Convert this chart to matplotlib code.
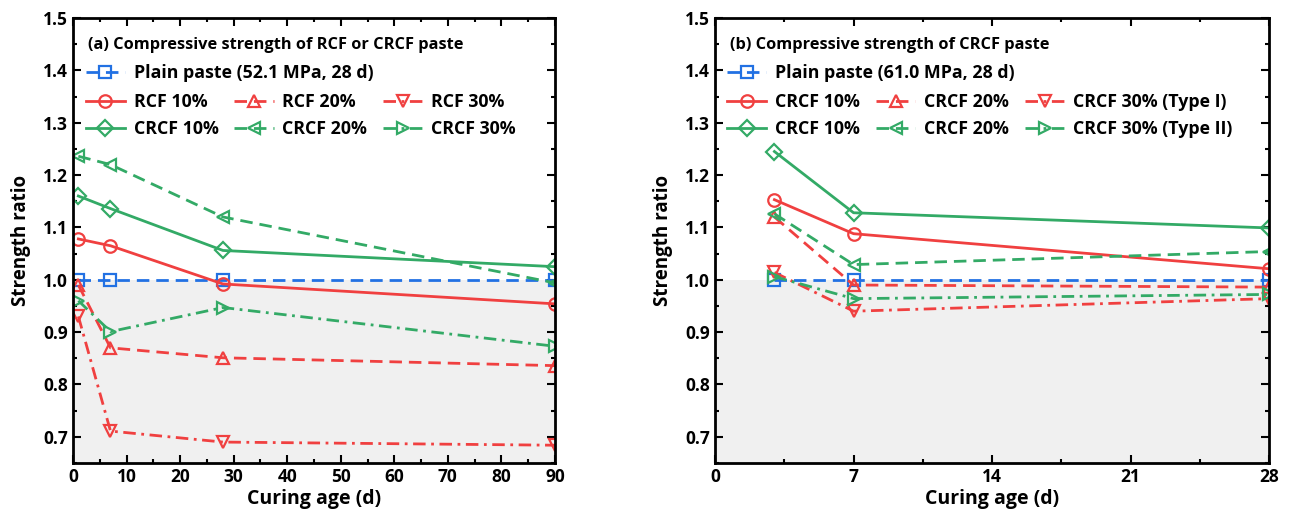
import numpy as np
import matplotlib
matplotlib.use("Agg")
import matplotlib.pyplot as plt
from matplotlib.ticker import MultipleLocator

plt.rcParams['font.family'] = ['Open Sans', 'DejaVu Sans']
plt.rcParams['font.weight'] = 'bold'
plt.rcParams['font.size'] = 12

# ---- data: panel (a) ----
age_a = [1, 7, 28, 90]
plain_a = [1.0, 1.0, 1.0, 1.0]
rcf10 = [1.078, 1.065, 0.992, 0.954]
rcf20 = [0.990, 0.870, 0.851, 0.836]
rcf30 = [0.930, 0.711, 0.690, 0.684]
crcf10_a = [1.160, 1.136, 1.056, 1.025]
crcf20_a = [1.236, 1.220, 1.120, 0.994]
crcf30_a = [0.960, 0.901, 0.947, 0.873]

# ---- data: panel (b) ----
age_b = [3, 7, 28]
plain_b = [1.0, 1.0, 1.0]
t1_10 = [1.153, 1.088, 1.021]
t1_20 = [1.120, 0.990, 0.986]
t1_30 = [1.014, 0.940, 0.964]
t2_10 = [1.245, 1.128, 1.099]
t2_20 = [1.126, 1.029, 1.054]
t2_30 = [1.006, 0.964, 0.972]

blue = '#2271E3'
red = '#F04040'
green = '#33AA66'

DASH = (4.5, 2.5)
DASHDOT = (4.5, 2, 1, 2)

fig = plt.figure(figsize=(12.9, 5.22), dpi=100)
ax1 = fig.add_axes([0.0566, 0.113, 0.3736, 0.8525])
ax2 = fig.add_axes([0.5543, 0.113, 0.4295, 0.8525])


def style(c, m, dashes):
    kw = dict(color=c, marker=m, lw=2.0, ms=9, mew=1.6, mfc='none', mec=c)
    if dashes is None:
        kw['linestyle'] = '-'
    else:
        kw['linestyle'] = (0, dashes)
    return kw


def draw(ax, x, plain, s10, s20, s30, g10, g20, g30, labels):
    ax.axhspan(0.6, 1.0, color='#f0f0f0', zorder=0, lw=0)
    hp, = ax.plot(x, plain, label=labels[0], **style(blue, 's', DASH))
    h1, = ax.plot(x, s10, label=labels[1], **style(red, 'o', None))
    h2, = ax.plot(x, s20, label=labels[2], **style(red, '^', DASH))
    h3, = ax.plot(x, s30, label=labels[3], **style(red, 'v', DASHDOT))
    h4, = ax.plot(x, g10, label=labels[4], **style(green, 'D', None))
    h5, = ax.plot(x, g20, label=labels[5], **style(green, '<', DASH))
    h6, = ax.plot(x, g30, label=labels[6], **style(green, '>', DASHDOT))
    h4.set_markersize(8.5)
    return hp, [h1, h4, h2, h5, h3, h6]


hp1, hs1 = draw(ax1, age_a, plain_a, rcf10, rcf20, rcf30, crcf10_a, crcf20_a, crcf30_a,
                ['Plain paste (52.1 MPa, 28 d)', 'RCF 10%', 'RCF 20%', 'RCF 30%',
                 'CRCF 10%', 'CRCF 20%', 'CRCF 30%'])
hp2, hs2 = draw(ax2, age_b, plain_b, t1_10, t1_20, t1_30, t2_10, t2_20, t2_30,
                ['Plain paste (61.0 MPa, 28 d)', 'CRCF 10%', 'CRCF 20%', 'CRCF 30% (Type I)',
                 'CRCF 10%', 'CRCF 20%', 'CRCF 30% (Type II)'])

ax1.set_xlim(0, 90)
ax1.xaxis.set_major_locator(MultipleLocator(10))
ax1.xaxis.set_minor_locator(MultipleLocator(5))
ax2.set_xlim(0, 28)
ax2.xaxis.set_major_locator(MultipleLocator(7))
ax2.xaxis.set_minor_locator(MultipleLocator(3.5))

titles = ['(a) Compressive strength of RCF or CRCF paste',
          '(b) Compressive strength of CRCF paste']
for ax, hp, hs, title, tx in ((ax1, hp1, hs1, titles[0], 0.031),
                              (ax2, hp2, hs2, titles[1], 0.027)):
    ax.set_ylim(0.65, 1.5)
    ax.yaxis.set_major_locator(MultipleLocator(0.1))
    ax.yaxis.set_minor_locator(MultipleLocator(0.05))
    ax.tick_params(which='both', direction='in', top=True, right=True, width=1.5,
                   labelsize=12.5)
    ax.tick_params(which='major', length=6)
    ax.tick_params(which='minor', length=3)
    for sp in ax.spines.values():
        sp.set_linewidth(2)
    ax.set_xlabel('Curing age (d)', fontsize=14, fontweight='bold', labelpad=2)
    ax.set_ylabel('Strength ratio', fontsize=13.5, fontweight='bold', labelpad=9)
    ax.text(tx, 0.939, title, transform=ax.transAxes, va='center', ha='left',
            fontsize=11.8, fontweight='bold')
    leg1 = ax.legend(handles=[hp], loc='center left', bbox_to_anchor=(tx - 0.005, 0.876),
                     frameon=False, borderpad=0, borderaxespad=0, handlelength=2.2,
                     handletextpad=0.5, fontsize=12.8)
    ax.add_artist(leg1)
    ax.legend(handles=hs, ncol=3, loc='center left', bbox_to_anchor=(tx - 0.005, 0.78),
              frameon=False, borderpad=0, borderaxespad=0, handlelength=2.2,
              handletextpad=0.5, columnspacing=0.9, labelspacing=0.5, fontsize=12.8)

fig.savefig('out.png', dpi=100)
